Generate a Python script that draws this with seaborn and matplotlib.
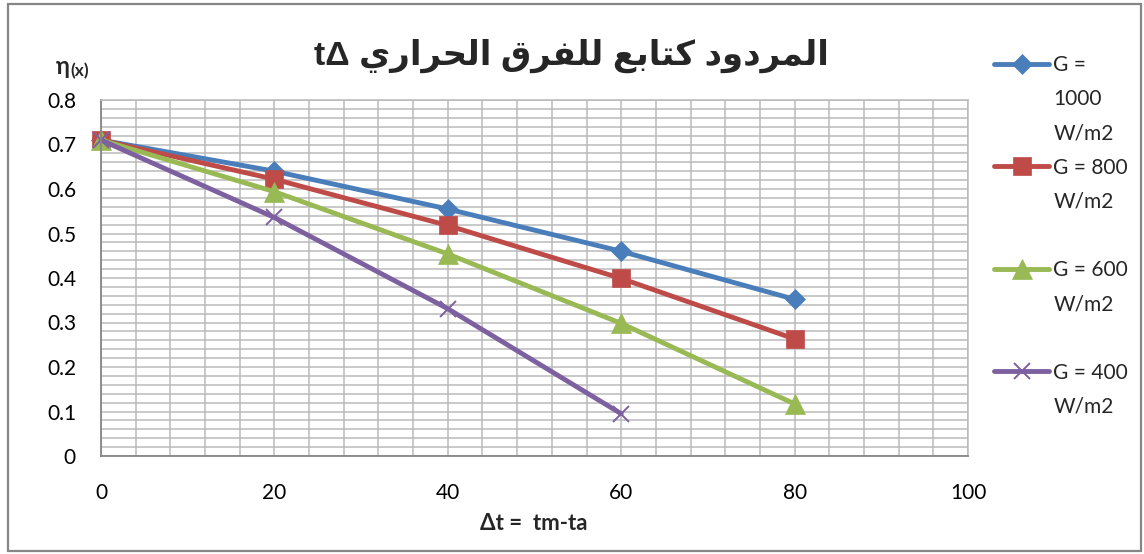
import matplotlib
matplotlib.use("Agg")
import matplotlib.pyplot as plt
from matplotlib.lines import Line2D
from matplotlib.patches import Rectangle
from matplotlib.ticker import MultipleLocator, FixedLocator, FixedFormatter
import pandas as pd
import seaborn as sns

# ---- data -------------------------------------------------------------
delta_t = [0, 20, 40, 60, 80]
eta_g1000 = [0.71, 0.64, 0.555, 0.46, 0.352]
eta_g800 = [0.71, 0.622, 0.518, 0.399, 0.263]
eta_g600 = [0.71, 0.594, 0.454, 0.298, 0.117]
eta_g400 = [0.71, 0.536, 0.331, 0.095]

series_labels = ["G = 1000 W/m2", "G = 800 W/m2", "G = 600 W/m2", "G = 400 W/m2"]
legend_rows = [["G =", "1000", "W/m2"], ["G = 800", "W/m2", ""],
               ["G = 600", "W/m2", ""], ["G = 400", "W/m2"]]

x_ticks = [0, 20, 40, 60, 80, 100]
y_ticks = [0, 0.1, 0.2, 0.3, 0.4, 0.5, 0.6, 0.7, 0.8]
y_tick_labels = ["0", "0.1", "0.2", "0.3", "0.4", "0.5", "0.6", "0.7", "0.8"]

title_ar = "المردود كتابع للفرق الحراري"
title_sym = "tΔ"
x_label = "Δt =  tm-ta"
y_label_main = "η"
y_label_sub = "(x)"

# ---- styles -----------------------------------------------------------
colors = ["#4A7EBB", "#BE4B48", "#98B954", "#7D60A0"]
markers = ["D", "s", "^", "x"]
marker_sizes = [10.5, 13.5, 14, 12]

# Arabic contextual forms (isolated, final[, initial, medial])
_FORMS = {
    "ا": ("\uFE8D", "\uFE8E"),
    "د": ("\uFEA9", "\uFEAA"),
    "ر": ("\uFEAD", "\uFEAE"),
    "و": ("\uFEED", "\uFEEE"),
    "ب": ("\uFE8F", "\uFE90", "\uFE91", "\uFE92"),
    "ت": ("\uFE95", "\uFE96", "\uFE97", "\uFE98"),
    "ح": ("\uFEA1", "\uFEA2", "\uFEA3", "\uFEA4"),
    "ع": ("\uFEC9", "\uFECA", "\uFECB", "\uFECC"),
    "ف": ("\uFED1", "\uFED2", "\uFED3", "\uFED4"),
    "ق": ("\uFED5", "\uFED6", "\uFED7", "\uFED8"),
    "ك": ("\uFED9", "\uFEDA", "\uFEDB", "\uFEDC"),
    "ل": ("\uFEDD", "\uFEDE", "\uFEDF", "\uFEE0"),
    "م": ("\uFEE1", "\uFEE2", "\uFEE3", "\uFEE4"),
    "ي": ("\uFEF1", "\uFEF2", "\uFEF3", "\uFEF4"),
}


def shape_rtl(text):
    """Join Arabic letters into their contextual forms and lay them out right to left."""
    out = []
    for i, ch in enumerate(text):
        forms = _FORMS.get(ch)
        if forms is None:
            out.append(ch)
            continue
        prev = text[i - 1] if i > 0 else ""
        nxt = text[i + 1] if i + 1 < len(text) else ""
        joins_prev = len(_FORMS.get(prev, ())) == 4
        joins_next = len(forms) == 4 and nxt in _FORMS
        if joins_prev and joins_next:
            out.append(forms[3])
        elif joins_prev:
            out.append(forms[1])
        elif joins_next:
            out.append(forms[2])
        else:
            out.append(forms[0])
    return "".join(reversed(out))


sns.set_style("white")
plt.rcParams["font.family"] = ["Lato", "DejaVu Sans"]

W, H = 1144, 554
fig = plt.figure(figsize=(W / 100, H / 100), dpi=100)
ax = fig.add_axes([101 / W, (H - 456) / H, (968 - 101) / W, (456 - 100) / H])

all_series = [eta_g1000, eta_g800, eta_g600, eta_g400]
for vals, lab, c, m, ms in zip(all_series, series_labels, colors, markers, marker_sizes):
    df = pd.DataFrame({"dt": delta_t[:len(vals)], "eta": vals})
    sns.lineplot(data=df, x="dt", y="eta", ax=ax, color=c, linewidth=3.5,
                 marker=m, markersize=ms, markeredgecolor=c,
                 markerfacecolor=c if m != "x" else "none",
                 markeredgewidth=1.4 if m == "x" else 0.5,
                 label=lab, legend=False, clip_on=False)

ax.set_xlim(0, 100)
ax.set_ylim(0, 0.8)
ax.xaxis.set_major_locator(FixedLocator(x_ticks))
ax.xaxis.set_minor_locator(MultipleLocator(4))
ax.yaxis.set_major_locator(FixedLocator(y_ticks))
ax.yaxis.set_major_formatter(FixedFormatter(y_tick_labels))
ax.yaxis.set_minor_locator(MultipleLocator(0.02))

grid_c = "#BABABA"
ax.set_axisbelow(True)
ax.grid(which="both", color=grid_c, linewidth=1.1)
for s in ("top", "right"):
    ax.spines[s].set_color(grid_c)
    ax.spines[s].set_linewidth(1.1)
for s in ("left", "bottom"):
    ax.spines[s].set_color("#868686")
    ax.spines[s].set_linewidth(1.3)

ax.tick_params(axis="x", which="major", direction="out", length=5.5, width=1.2,
               color="#868686", pad=14, labelsize=15, labelcolor="black")
ax.tick_params(axis="y", which="major", length=0, pad=18, labelsize=15, labelcolor="black")
ax.tick_params(which="minor", length=0)
ax.set_xlabel("")
ax.set_ylabel("")

# titles and axis captions
fig.text(571 / W, 1 - 56 / H, title_sym + " " + shape_rtl(title_ar),
         ha="center", va="center", fontsize=24.5, fontweight="bold",
         family=["Liberation Sans", "DejaVu Sans"])
fig.text(534 / W, 1 - 524 / H, x_label, ha="center", va="center",
         fontsize=16, fontweight="bold")
fig.text(56 / W, 1 - 66 / H, y_label_main, ha="left", va="center",
         fontsize=17, fontweight="bold")
fig.text(70 / W, 1 - 71 / H, y_label_sub, ha="left", va="center",
         fontsize=12.5, fontweight="bold")

# legend: one row per text line, the sample on each series' first line
handles, _ = ax.get_legend_handles_labels()
blank = Line2D([], [], linestyle="none")
leg_h, leg_l = [], []
for h, rows in zip(handles, legend_rows):
    for k, txt in enumerate(rows):
        leg_h.append(h if k == 0 else blank)
        leg_l.append(txt)
ax.legend(leg_h, leg_l, loc="upper left", bbox_to_anchor=(994 / W, 1 - 55 / H),
          bbox_transform=fig.transFigure, frameon=False, fontsize=15,
          handlelength=2.65, handletextpad=0.2, labelspacing=0.68,
          borderpad=0, borderaxespad=0, numpoints=1)

# chart border
fig.add_artist(Rectangle((8 / W, 3 / H), (1141 - 8) / W, (551 - 4) / H,
                         transform=fig.transFigure, fill=False,
                         edgecolor="#868686", linewidth=1.6))

fig.savefig("out.png", dpi=100)
